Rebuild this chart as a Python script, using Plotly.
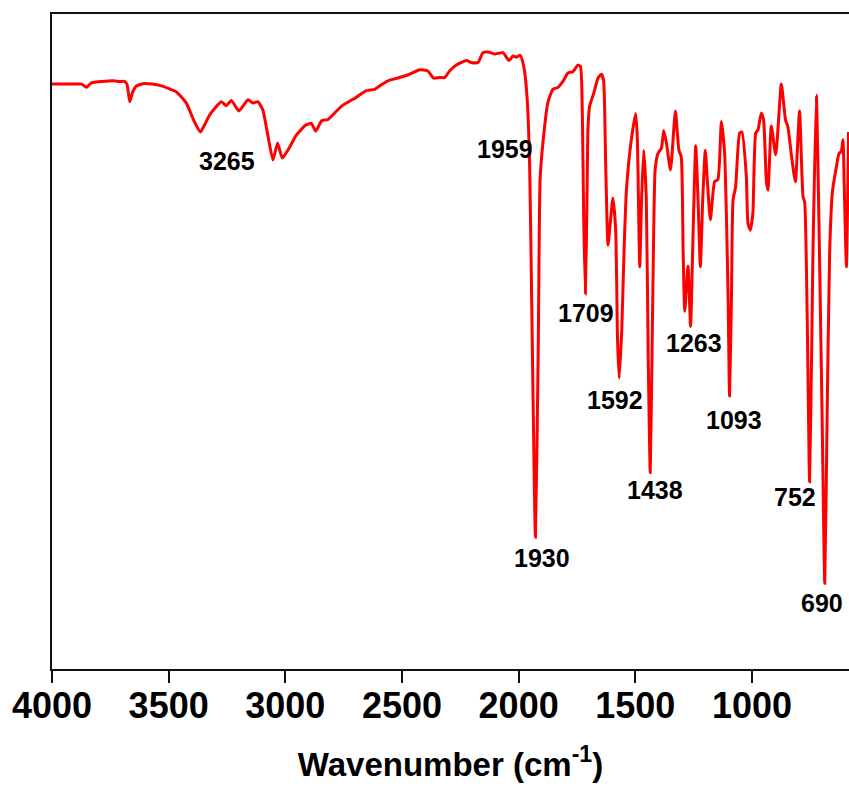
import plotly.graph_objects as go

# Spectrum: wavenumber (cm-1) and transmittance (arb. %)
wavenumber = [4000, 3924, 3873, 3853, 3831, 3740, 3710, 3688, 3678, 3667, 3654, 3638, 3603, 3538,
              3467, 3424, 3393, 3364, 3346, 3324, 3274, 3253, 3231, 3199, 3160, 3139, 3117, 3096,
              3074, 3053, 3033, 3013, 2981, 2953, 2913, 2888, 2870, 2844, 2817, 2760, 2695, 2653,
              2617, 2588, 2553, 2510, 2467, 2424, 2389, 2364, 2338, 2317, 2296, 2267, 2224, 2203,
              2174, 2153, 2131, 2103, 2067, 2041, 2024, 2010, 1993, 1978, 1964, 1953, 1944, 1928,
              1916, 1908, 1896, 1874, 1853, 1831, 1810, 1789, 1767, 1746, 1735, 1727, 1721, 1714,
              1707, 1703, 1696, 1678, 1660, 1645, 1636, 1627, 1617, 1608, 1596, 1584, 1576, 1569,
              1558, 1548, 1538, 1517, 1498, 1491, 1481, 1473, 1464, 1453, 1445, 1436, 1428, 1421,
              1415, 1403, 1388, 1378, 1366, 1349, 1328, 1313, 1303, 1295, 1288, 1274, 1263, 1254,
              1241, 1231, 1221, 1211, 1200, 1190, 1178, 1160, 1146, 1131, 1117, 1108, 1102, 1096,
              1088, 1081, 1070, 1053, 1043, 1024, 1017, 1007, 996, 984, 974, 960, 950, 938,
              931, 917, 898, 874, 856, 846, 831, 814, 796, 781, 774, 763, 753, 744,
              739, 724, 716, 710, 699, 688, 678, 667, 655, 638, 627, 617, 610, 603,
              595, 586]
transmittance = [89.3, 89.3, 89.3, 88.8, 89.5, 89.8, 89.7, 89.7, 89.2, 86.6, 88.1, 89.0, 89.4, 89.1,
                 88.1, 86.4, 83.8, 82.0, 83.1, 84.6, 86.6, 86.0, 86.8, 85.2, 86.9, 86.4, 86.6, 85.3,
                 81.3, 77.7, 80.3, 78.0, 79.7, 81.5, 83.0, 83.3, 82.1, 83.7, 83.9, 85.9, 87.3, 88.3,
                 88.5, 89.2, 89.9, 90.3, 90.8, 91.5, 91.3, 90.2, 90.3, 90.3, 91.3, 92.2, 92.9, 92.6,
                 92.6, 94.1, 94.2, 93.9, 94.1, 92.9, 93.6, 93.4, 93.7, 92.0, 87.4, 77.3, 56.3, 20.1,
                 48.7, 74.7, 80.3, 86.6, 88.5, 88.8, 89.7, 91.0, 91.2, 92.2, 92.0, 84.8, 68.6, 57.3,
                 71.6, 82.3, 85.9, 87.9, 90.2, 90.8, 89.9, 77.2, 64.7, 67.8, 71.9, 67.0, 50.2, 44.4,
                 51.8, 64.0, 73.1, 80.8, 84.8, 80.8, 61.4, 71.6, 79.2, 72.1, 48.7, 30.0, 48.7, 67.0,
                 76.2, 78.7, 79.5, 82.2, 80.2, 76.2, 85.2, 79.2, 78.2, 64.0, 54.6, 61.5, 52.3, 64.0,
                 79.9, 71.6, 61.4, 71.6, 79.2, 73.9, 68.6, 74.4, 74.7, 83.6, 78.7, 67.0, 56.3, 41.7,
                 56.3, 71.6, 73.6, 81.8, 82.0, 75.2, 68.0, 67.0, 69.6, 81.8, 82.3, 84.9, 83.8, 74.4,
                 73.1, 82.9, 78.5, 89.3, 83.8, 82.8, 78.5, 74.4, 85.2, 72.1, 71.3, 53.3, 28.6, 48.7,
                 62.4, 87.6, 74.7, 62.4, 38.0, 13.1, 38.0, 63.5, 72.9, 76.7, 78.7, 79.0, 80.8, 71.6,
                 61.4, 82.0]

# Peak labels
peak_labels = ["3265", "1959", "1709", "1592", "1438", "1930", "1263", "1093", "752", "690"]
label_x = [3251, 2060, 1713, 1586, 1415, 1898, 1250, 1078, 815, 701]
label_y = [77.6, 79.4, 54.4, 41.1, 27.3, 17.0, 49.7, 38.0, 26.3, 10.1]

tick_values = [4000, 3500, 3000, 2500, 2000, 1500, 1000]
tick_text = ["4000", "3500", "3000", "2500", "2000", "1500", "1000"]

FONT = "Liberation Sans, Arial, sans-serif"

fig = go.Figure()
fig.add_trace(go.Scatter(
    x=wavenumber, y=transmittance, mode="lines",
    line=dict(color="#ff0000", width=3, shape="spline", smoothing=0.5),
    hoverinfo="skip", showlegend=False,
))

for t, x, y in zip(peak_labels, label_x, label_y):
    fig.add_annotation(x=x, y=y, text=t, showarrow=False,
                       font=dict(family=FONT, size=25, color="black", weight="bold"))

fig.update_layout(
    width=849, height=790,
    margin=dict(l=52, r=0, t=14, b=121, pad=0),
    paper_bgcolor="white", plot_bgcolor="white",
    xaxis=dict(
        range=[4000, 584], showgrid=False, zeroline=False,
        showline=True, linecolor="#111", linewidth=2, mirror=True,
        ticks="outside", ticklen=12, tickwidth=2, tickcolor="#111",
        tickvals=tick_values, ticktext=tick_text, ticklabelstandoff=-8,
        tickfont=dict(family=FONT, size=36, color="black", weight="bold"),
        title=dict(text="Wavenumber (cm<sup>-1</sup>)", standoff=28,
                   font=dict(family=FONT, size=33, color="black", weight="bold")),
    ),
    yaxis=dict(
        range=[0, 100], showgrid=False, zeroline=False,
        showline=True, linecolor="#111", linewidth=2,
        ticks="", showticklabels=False,
    ),
)

fig.write_html("out.html")
